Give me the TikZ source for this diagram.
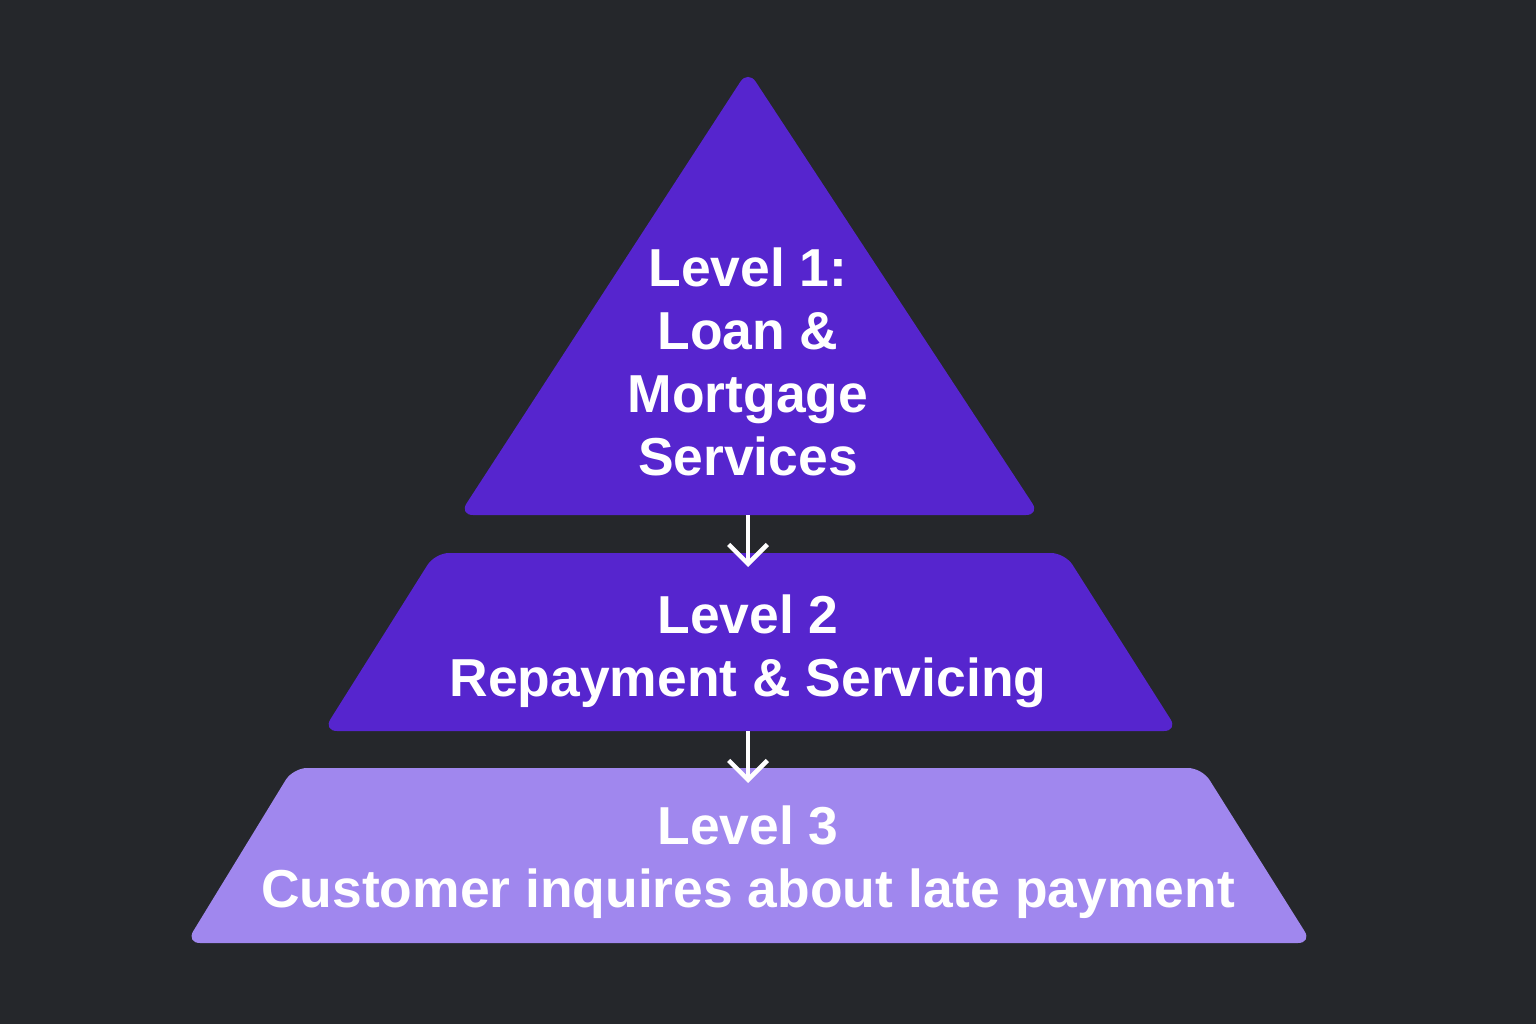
\documentclass[tikz,border=0pt]{standalone}
\usepackage{fontspec}
\setmainfont{Liberation Sans}
\usetikzlibrary{arrows.meta,positioning}
\definecolor{bgdark}{HTML}{25272B}
\definecolor{deepviolet}{HTML}{5625CE}
\definecolor{softviolet}{HTML}{A087EE}

\begin{document}
\begin{tikzpicture}[
  tier/.style={fill=deepviolet, rounded corners=4pt},
  tiertext/.style={text=white, align=center, font=\bfseries\fontsize{15.2}{17.9}\selectfont},
  arr/.style={-{Straight Barb[length=5.5pt,width=11pt,line width=1.3pt]}, white, line width=1.3pt}
]
\fill[bgdark] (0,0) rectangle (15.36,10.24);
% pyramid tiers
\fill[tier] (7.48,9.54) -- (10.40,5.09) -- (4.59,5.09) -- cycle;
\fill[tier] (4.35,4.71) -- (10.65,4.71) -- (11.78,2.93) -- (3.23,2.93) -- cycle;
\fill[tier, fill=softviolet] (2.93,2.56) -- (12.02,2.56) -- (13.12,0.81) -- (1.86,0.81) -- cycle;
\coordinate (l1base) at (7.48,5.09);
\coordinate (l2tip) at (7.48,4.57);
\coordinate (l2base) at (7.48,2.93);
\coordinate (l3tip) at (7.48,2.41);
\node[tiertext] (l1) at (7.48,6.62) {Level 1:\\Loan \&\\Mortgage\\Services};
\node[tiertext] (l2) at (7.48,3.73) {Level 2\\Repayment \& Servicing};
\node[tiertext] (l3) at (7.48,1.62) {Level 3\\Customer inquires about late payment};
\draw[arr] (l1base) -- (l2tip);
\draw[arr] (l2base) -- (l3tip);
\end{tikzpicture}
\end{document}
